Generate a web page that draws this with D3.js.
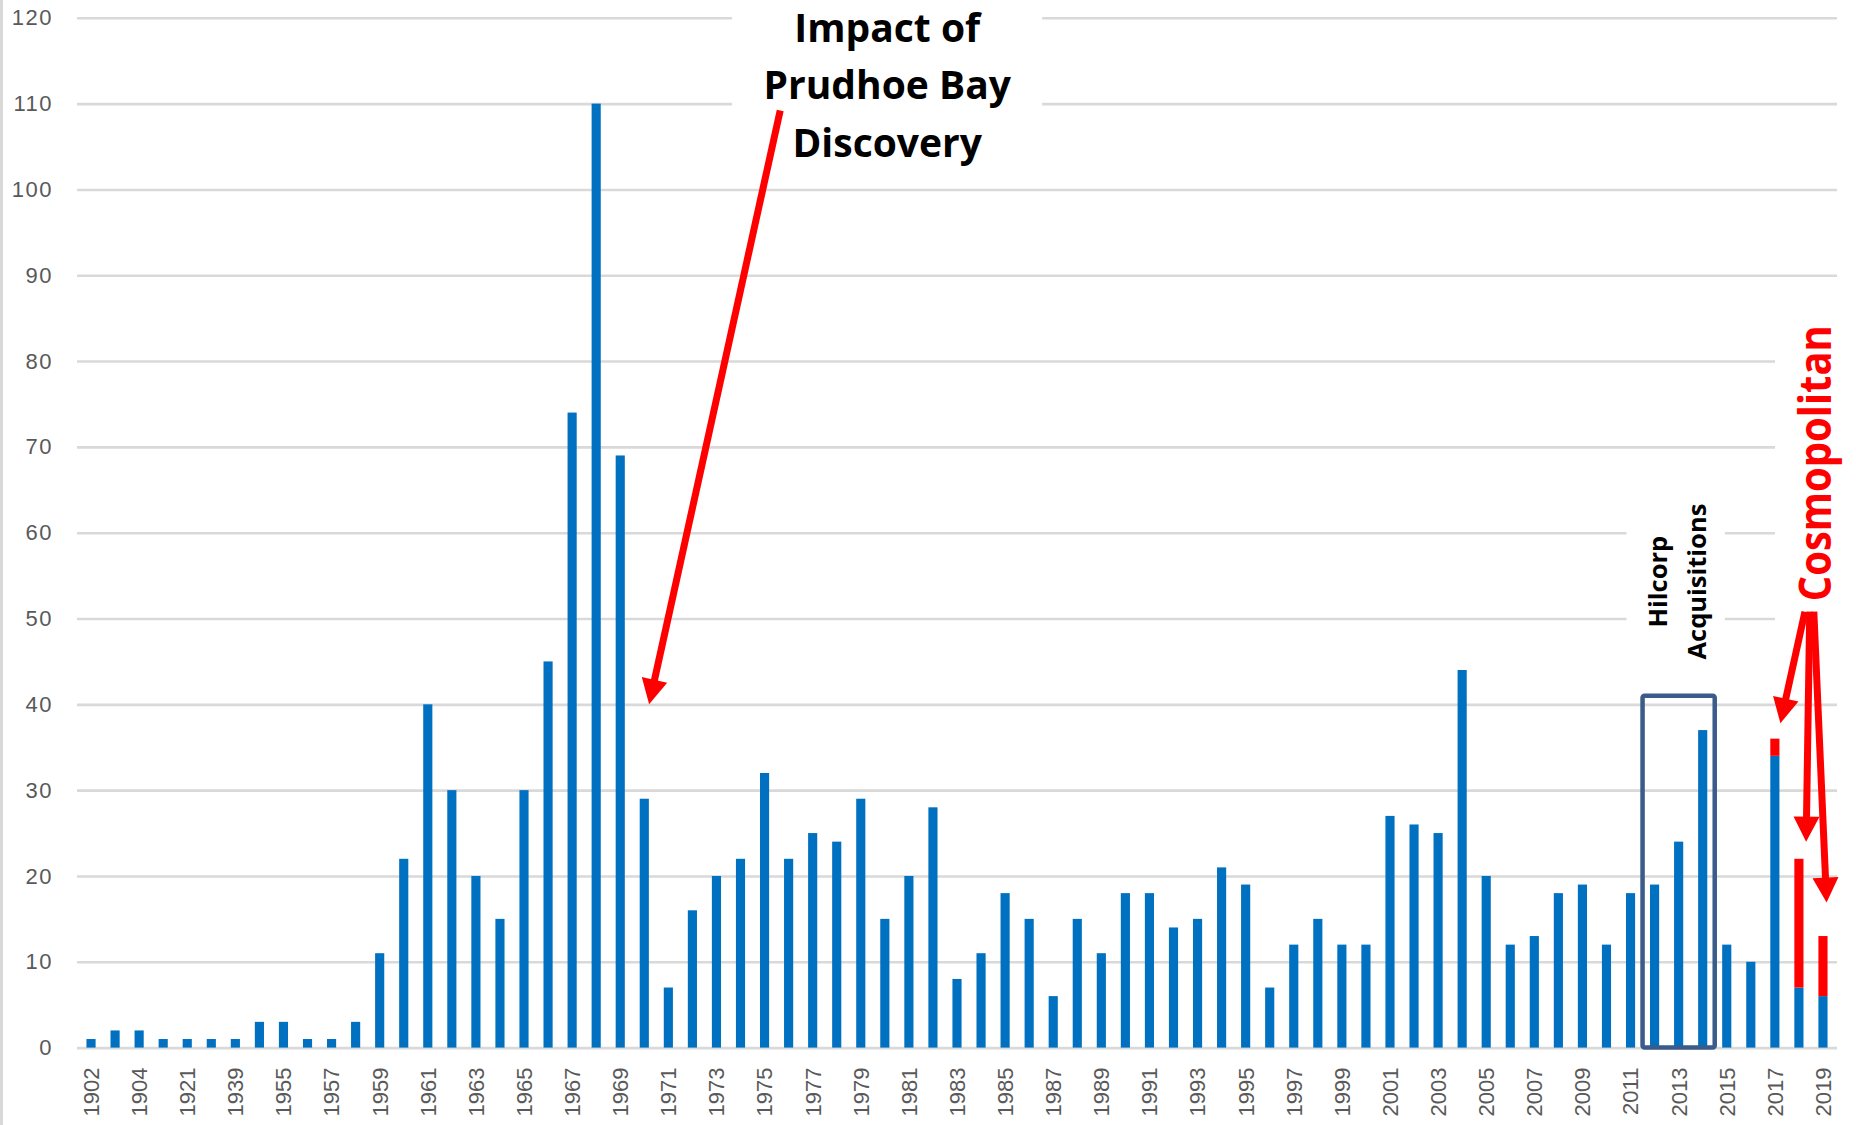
<!DOCTYPE html>
<html><head><meta charset="utf-8">
<script src="https://cdn.jsdelivr.net/npm/d3@7"></script>
<style>body{margin:0;background:#fff}</style></head>
<body><svg id="c" width="1856" height="1125"></svg>
<script>
const categories = ["1902","1903","1904","1913","1921","1930","1939","1950","1955","1956","1957","1958",
"1959","1960","1961","1962","1963","1964","1965","1966","1967","1968","1969","1970",
"1971","1972","1973","1974","1975","1976","1977","1978","1979","1980",
"1981","1982","1983","1984","1985","1986","1987","1988","1989","1990",
"1991","1992","1993","1994","1995","1996","1997","1998","1999","2000",
"2001","2002","2003","2004","2005","2006","2007","2008","2009","2010",
"2011","2012","2013","2014","2015","2016","2017","2018","2019"];
const existingValues = [1,2,2,1,1,1,1,3,3,1,1,3,
11,22,40,30,20,15,30,45,74,110,69,29,
7,16,20,22,32,22,25,24,29,15,
20,28,8,11,18,15,6,15,11,18,
18,14,15,21,19,7,12,15,12,12,
27,26,25,44,20,12,13,18,19,12,
18,19,24,37,12,10,34,7,6];
const cosmopolitanValues = [0,0,0,0,0,0,0,0,0,0,0,0,
0,0,0,0,0,0,0,0,0,0,0,0,
0,0,0,0,0,0,0,0,0,0,
0,0,0,0,0,0,0,0,0,0,
0,0,0,0,0,0,0,0,0,0,
0,0,0,0,0,0,0,0,0,0,
0,0,0,0,0,0,2,15,7];
const yTicks = [0,10,20,30,40,50,60,70,80,90,100,110,120];
const titleLines = ["Impact of","Prudhoe Bay","Discovery"];
const hilcorpLines = ["Hilcorp","Acquisitions"];
const cosmoLabel = "Cosmopolitan";

const W = 1856, H = 1125;
const svg = d3.select("#c");
svg.append("rect").attr("width", W).attr("height", H).attr("fill", "#fff");

const x = d3.scaleBand().domain(categories).range([79, 1835]).paddingInner(0.62).paddingOuter(0.31);
const y = d3.scaleLinear().domain([0, 120]).range([1047.6, 17.8]);
const cx = c => x(c) + x.bandwidth() / 2;
const px = (c, off) => cx(c) + off * x.step();

// outer left border
svg.append("line").attr("x1", 1.5).attr("x2", 1.5).attr("y1", 0).attr("y2", H)
  .attr("stroke", "#d9d9d9").attr("stroke-width", 3);

// y axis + gridlines
const gy = svg.append("g").attr("transform", "translate(77,0)")
  .call(d3.axisLeft(y).tickValues(yTicks).tickSize(-(1837 - 77)).tickPadding(24));
gy.select(".domain").remove();
gy.selectAll(".tick line").attr("stroke", "#d9d9d9").attr("stroke-width", 2.6);
gy.selectAll(".tick text").attr("fill", "#595959").style("font-family", "Liberation Sans, Arial, sans-serif")
  .style("font-size", "22px").style("letter-spacing", "1.5px");

// x axis
const gx = svg.append("g").attr("transform", `translate(0,${y(0)})`)
  .call(d3.axisBottom(x).tickSize(0).tickFormat((d, i) => i % 2 === 0 ? d : ""));
gx.select(".domain").remove();
gx.selectAll(".tick text").attr("transform", "rotate(-90)").attr("x", -20).attr("y", 0)
  .attr("dy", "0.36em").attr("text-anchor", "end").attr("fill", "#595959")
  .style("font-family", "Liberation Sans, Arial, sans-serif").style("font-size", "22px");

// bars
const rows = categories.map((c, i) => ({cat: c, existing: existingValues[i], cosmo: cosmopolitanValues[i]}));
const series = d3.stack().keys(["existing", "cosmo"])(rows);
const colors = {existing: "#0070C0", cosmo: "#FF0000"};
svg.append("g").selectAll("g").data(series).join("g").attr("fill", s => colors[s.key])
  .selectAll("rect").data(s => s.filter(d => d[1] - d[0] > 0)).join("rect")
  .attr("x", d => x(d.data.cat)).attr("width", x.bandwidth())
  .attr("y", d => y(d[1])).attr("height", d => y(d[0]) - y(d[1]));

// white backgrounds behind annotation texts
svg.append("rect").attr("x", px("1974", -0.35)).attr("y", 0)
  .attr("width", px("1987", -0.46) - px("1974", -0.35)).attr("height", y(102)).attr("fill", "#fff");
svg.append("rect").attr("x", px("2011", -0.17)).attr("y", y(64))
  .attr("width", px("2015", -0.08) - px("2011", -0.17)).attr("height", y(43.5) - y(64)).attr("fill", "#fff");
svg.append("rect").attr("x", 1775).attr("y", y(87))
  .attr("width", W - 1775).attr("height", y(48) - y(87)).attr("fill", "#fff");

// Hilcorp box
svg.append("rect").attr("x", px("2011", 0.5)).attr("y", y(41))
  .attr("width", px("2014", 0.5) - px("2011", 0.5)).attr("height", y(0) - y(41))
  .attr("fill", "none").attr("stroke", "#3B5B8A").attr("stroke-width", 4.5).attr("rx", 2);

// title
const boldFont = "'Open Sans', 'Liberation Sans', Arial, sans-serif";
const titleY = [117.18, 110.5, 103.8];
svg.append("g").selectAll("text").data(titleLines).join("text")
  .attr("x", px("1980", 0.1)).attr("y", (d, i) => y(titleY[i]))
  .attr("text-anchor", "middle").style("font-family", boldFont).style("font-weight", 700)
  .style("font-size", "39px").attr("fill", "#000").text(d => d);

// Hilcorp text
const hilX = [px("2012", 0.5), px("2014", 0.15)];
svg.append("g").selectAll("text").data(hilcorpLines).join("text")
  .attr("transform", (d, i) => `translate(${hilX[i]},${y(54.3)}) rotate(-90)`)
  .attr("text-anchor", "middle").style("font-family", boldFont).style("font-weight", 700)
  .style("font-size", "25.5px").attr("fill", "#000").text(d => d);

// Cosmopolitan text
svg.append("text")
  .attr("transform", `translate(${px("2019", 0.33)},${y(68.1)}) rotate(-90)`)
  .attr("text-anchor", "middle").style("font-family", boldFont).style("font-weight", 700)
  .style("font-size", "44px").attr("fill", "#FF0000")
  .attr("textLength", 276).attr("lengthAdjust", "spacingAndGlyphs").text(cosmoLabel);

// arrows
function arrow(x1, y1, x2, y2) {
  const L = 25, Wd = 26;
  const dx = x2 - x1, dy = y2 - y1, len = Math.hypot(dx, dy);
  const ux = dx / len, uy = dy / len;
  const bx = x2 - ux * L, by = y2 - uy * L;
  const g = svg.append("g");
  g.append("line").attr("x1", x1).attr("y1", y1).attr("x2", bx + ux * 2).attr("y2", by + uy * 2)
    .attr("stroke", "#FF0000").attr("stroke-width", 7);
  g.append("polygon").attr("fill", "#FF0000")
    .attr("points", [[x2, y2], [bx - uy * Wd / 2, by + ux * Wd / 2], [bx + uy * Wd / 2, by - ux * Wd / 2]].map(p => p.join(",")).join(" "));
}
arrow(px("1975", 0.65), y(109.2), px("1970", 0.2), y(40));
arrow(px("2018", 0.25), y(50.8), px("2017", 0.23), y(37.8));
arrow(px("2018", 0.45), y(50.8), px("2018", 0.3), y(24));
arrow(px("2018", 0.62), y(50.8), px("2019", 0.15), y(16.9));
</script>
</body></html>
